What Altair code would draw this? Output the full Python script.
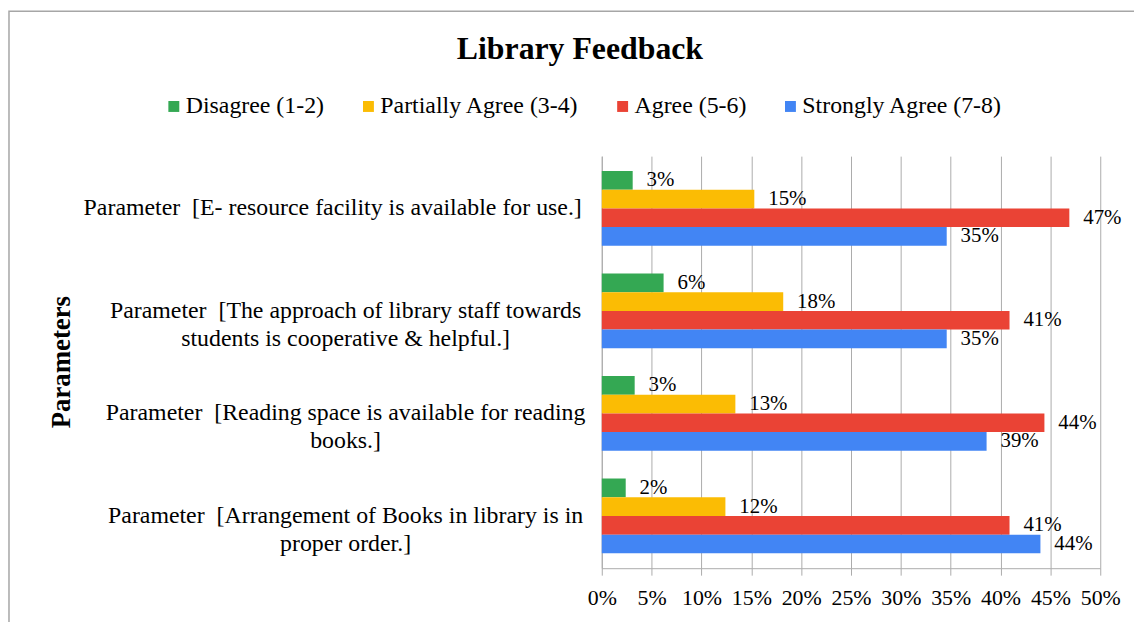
import altair as alt
import pandas as pd

categories = [
    "Parameter \u00a0[E- resource facility is available for use.]",
    "Parameter \u00a0[The approach of library staff towards\nstudents is cooperative & helpful.]",
    "Parameter \u00a0[Reading space is available for reading\nbooks.]",
    "Parameter \u00a0[Arrangement of Books in library is in\nproper order.]",
]
series = ["Disagree (1-2)", "Partially Agree (3-4)", "Agree (5-6)", "Strongly Agree (7-8)"]
disagree = [0.031, 0.062, 0.033, 0.024]
partially = [0.153, 0.182, 0.134, 0.124]
agree = [0.469, 0.409, 0.444, 0.409]
strongly = [0.346, 0.346, 0.386, 0.440]
colors = ["#34A853", "#FBBC04", "#EA4335", "#4285F4"]
x_ticks = [0, 0.05, 0.10, 0.15, 0.20, 0.25, 0.30, 0.35, 0.40, 0.45, 0.50]

rows = []
for s, vals in zip(series, [disagree, partially, agree, strongly]):
    for c, v in zip(categories, vals):
        rows.append({"cat": c, "series": s, "value": v})
df = pd.DataFrame(rows)
cat_df = pd.DataFrame({"cat": categories})

SERIF = "Liberation Serif"
GRAY = "#ababab"
PAD_L = 598

y_enc = alt.Y(
    "cat:N", sort=categories,
    scale=alt.Scale(paddingInner=0.27, paddingOuter=0.145),
    axis=alt.Axis(labels=False, ticks=False, domainColor=GRAY, title="Parameters",
                  titleFont=SERIF, titleFontSize=27, titleFontWeight="bold", titleColor="black",
                  titleX=-544, titleY=207, titleAngle=-90, titleAlign="center",
                  titleBaseline="middle"),
)
x_enc = alt.X(
    "value:Q", scale=alt.Scale(domain=[0, 0.5], nice=False),
    axis=alt.Axis(values=x_ticks, format=".0%", grid=True, gridColor=GRAY, domainColor=GRAY,
                  tickColor=GRAY, tickSize=7, labelFont=SERIF, labelFontSize=22,
                  labelColor="black", labelPadding=13, labelOverlap=False, labelFlush=False,
                  title=None),
)
yoff = alt.YOffset("series:N", sort=series, scale=alt.Scale(paddingInner=0, paddingOuter=0))

bars = alt.Chart(df).mark_bar().encode(
    x=x_enc, y=y_enc, yOffset=yoff,
    color=alt.Color("series:N", sort=series, scale=alt.Scale(domain=series, range=colors),
                    legend=alt.Legend(orient="none", legendX=-443, legendY=-62,
                                      direction="horizontal", title=None, symbolType="square",
                                      symbolSize=121, symbolStrokeWidth=0, labelFont=SERIF,
                                      labelFontSize=24, labelColor="black", labelLimit=400,
                                      columnPadding=32, labelOffset=0)),
)
labels = alt.Chart(df).mark_text(align="left", baseline="middle", dx=14, font=SERIF,
                                 fontSize=21, color="black").encode(
    x="value:Q", y=alt.Y("cat:N", sort=categories), yOffset=yoff,
    text=alt.Text("value:Q", format=".0%"),
)
cat_text = dict(align="center", baseline="middle", lineBreak="\n", lineHeight=28,
                font=SERIF, fontSize=24, color="black")
cat_labels_1 = alt.Chart(cat_df).transform_filter(
    alt.datum.cat == categories[0]
).mark_text(**cat_text).encode(
    y=alt.Y("cat:N", sort=categories), text="cat:N", x=alt.value(-271),
)
cat_labels_2 = alt.Chart(cat_df).transform_filter(
    alt.datum.cat != categories[0]
).mark_text(**cat_text).encode(
    y=alt.Y("cat:N", sort=categories), text="cat:N", x=alt.value(-258),
)
border = alt.Chart(pd.DataFrame({"k": [0]})).mark_rect(
    fillOpacity=0, stroke="#a6a6a6", strokeWidth=1.5
).encode(x=alt.value(-(PAD_L - 1)), x2=alt.value(700), y=alt.value(-146), y2=alt.value(600))

chart = alt.layer(border, bars, labels, cat_labels_1, cat_labels_2).properties(
    width=502, height=415,
    autosize=alt.AutoSizeParams(type="none"),
    padding={"left": PAD_L, "top": 147, "right": 34, "bottom": 52},
    title=alt.Title("Library Feedback", font=SERIF, fontSize=32, fontWeight="bold",
                    color="black", anchor="middle", frame="group", dx=-273, dy=60),
).configure_view(stroke=None)

chart.save("out.html", embed_options={"renderer": "svg", "actions": False})
